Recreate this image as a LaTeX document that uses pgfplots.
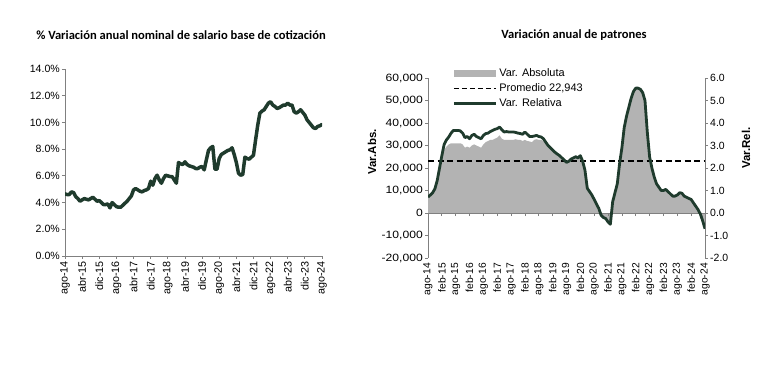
\documentclass[border=0pt]{standalone}
\usepackage{pgfplots}
\pgfplotsset{compat=1.18}
\usepackage{fontspec}
\setmainfont{Liberation Sans}
\newfontfamily\titlefont{Carlito}
\newfontfamily\widefont{Liberation Sans}[FakeStretch=1.15]
\definecolor{dgreen}{HTML}{1F3B2D}
\definecolor{areagray}{HTML}{B3B3B3}
\definecolor{axgray}{HTML}{808080}

\pgfplotstableread{
m v
0 4.65
1 4.6
2 4.6
3 4.8
4 4.75
5 4.45
6 4.3
7 4.1
8 4.2
9 4.3
10 4.25
11 4.2
12 4.3
13 4.4
14 4.25
15 4.1
16 4.15
17 4.0
18 3.85
19 3.85
20 3.9
21 3.6
22 4.0
23 3.85
24 3.7
25 3.65
26 3.65
27 3.8
28 3.95
29 4.1
30 4.3
31 4.5
32 4.95
33 5.05
34 4.95
35 4.85
36 4.8
37 4.9
38 4.95
39 5.05
40 5.6
41 5.3
42 5.8
43 6.05
44 5.7
45 5.45
46 5.8
47 6.05
48 6.0
49 5.95
50 5.95
51 5.7
52 5.45
53 7.0
54 6.9
55 6.85
56 7.05
57 6.85
58 6.75
59 6.7
60 6.65
61 6.55
62 6.55
63 6.65
64 6.7
65 6.45
66 7.2
67 7.9
68 8.1
69 8.2
70 6.5
71 6.5
72 7.3
73 7.6
74 7.7
75 7.8
76 7.9
77 7.95
78 8.1
79 7.6
80 7.0
81 6.2
82 6.05
83 6.1
84 7.4
85 7.3
86 7.25
87 7.4
88 7.55
89 8.7
90 9.8
91 10.7
92 10.85
93 10.95
94 11.2
95 11.45
96 11.55
97 11.3
98 11.2
99 11.05
100 11.1
101 11.2
102 11.3
103 11.3
104 11.45
105 11.3
106 11.3
107 10.8
108 10.7
109 10.8
110 10.95
111 10.75
112 10.55
113 10.2
114 10.0
115 9.8
116 9.6
117 9.55
118 9.7
119 9.75
120 9.85
}\salario

\pgfplotstableread{
m r
0 0.71
1 0.80
2 0.90
3 1.08
4 1.45
5 2.0
6 2.55
7 3.05
8 3.25
9 3.38
10 3.55
11 3.67
12 3.67
13 3.67
14 3.65
15 3.55
16 3.35
17 3.40
18 3.30
19 3.45
20 3.50
21 3.40
22 3.35
23 3.30
24 3.45
25 3.53
26 3.55
27 3.62
28 3.67
29 3.72
30 3.75
31 3.82
32 3.70
33 3.60
34 3.62
35 3.60
36 3.60
37 3.60
38 3.58
39 3.55
40 3.53
41 3.50
42 3.60
43 3.50
44 3.40
45 3.40
46 3.42
47 3.45
48 3.40
49 3.38
50 3.30
51 3.15
52 3.00
53 2.90
54 2.80
55 2.70
56 2.62
57 2.55
58 2.45
59 2.35
60 2.25
61 2.30
62 2.40
63 2.45
64 2.50
65 2.45
66 2.55
67 2.30
68 1.90
69 1.10
70 0.95
71 0.80
72 0.60
73 0.40
74 0.20
75 -0.10
76 -0.20
77 -0.25
78 -0.40
79 -0.50
80 0.50
81 0.90
82 1.30
83 2.20
84 2.90
85 3.80
86 4.30
87 4.70
88 5.10
89 5.40
90 5.55
91 5.55
92 5.50
93 5.35
94 5.00
95 3.60
96 2.50
97 2.00
98 1.60
99 1.30
100 1.15
101 1.00
102 1.00
103 1.05
104 0.95
105 0.85
106 0.75
107 0.75
108 0.80
109 0.90
110 0.88
111 0.75
112 0.70
113 0.65
114 0.60
115 0.45
116 0.30
117 0.15
118 -0.05
119 -0.35
120 -0.70
}\relativa

\pgfplotstableread{
m a
0 7000
1 7800
2 8800
3 10500
4 14000
5 19000
6 25000
7 28000
8 29500
9 30500
10 31000
11 31000
12 31000
13 31000
14 31000
15 30500
16 29000
17 29500
18 29000
19 30000
20 30500
21 30000
22 29500
23 29000
24 30500
25 31500
26 32000
27 32500
28 32500
29 33000
30 33500
31 34500
32 33000
33 32500
34 32500
35 32500
36 32500
37 32500
38 32800
39 32500
40 32500
41 32000
42 32500
43 32000
44 31800
45 31500
46 32500
47 32800
48 32500
49 32500
50 32000
51 31000
52 29500
53 28800
54 27800
55 26800
56 26000
57 25300
58 24300
59 23300
60 22300
61 22800
62 23800
63 24300
64 24800
65 24300
66 25300
67 22800
68 18800
69 10800
70 9300
71 7800
72 5800
73 3800
74 1800
75 -1200
76 -2200
77 -2700
78 -4200
79 -5200
80 4800
81 8800
82 12800
83 21800
84 28800
85 37800
86 42800
87 46800
88 50800
89 53800
90 55300
91 55300
92 54800
93 53300
94 49800
95 35800
96 24800
97 19800
98 15800
99 12800
100 11300
101 9800
102 9800
103 10300
104 9300
105 8300
106 7300
107 7300
108 7800
109 8800
110 8600
111 7300
112 6800
113 6300
114 5800
115 4300
116 2800
117 1300
118 -700
119 -3700
120 -7200
}\absoluta

\begin{document}
\begin{tikzpicture}
\path (0,0) rectangle (760bp,369bp);
\node[font=\titlefont\bfseries\fontsize{12.6}{14}\selectfont] at (181bp,334bp) {\% Variación anual nominal de salario base de cotización};
\node[font=\titlefont\bfseries\fontsize{12.6}{14}\selectfont] at (574bp,334bp) {Variación anual de patrones};
\node[rotate=90, font=\bfseries\fontsize{11.5}{13}\selectfont] at (372bp,217bp) {Var.Abs.};
\node[rotate=90, font=\bfseries\fontsize{11.5}{13}\selectfont] at (746bp,221bp) {Var.Rel.};

% Left chart
\begin{axis}[
  at={(65bp,113bp)}, anchor=south west, scale only axis,
  width=257bp, height=187bp,
  xmin=0, xmax=120, ymin=0, ymax=14,
  axis x line*=bottom, axis y line*=left,
  axis line style={axgray, line width=0.8bp},
  tick style={axgray, line width=0.8bp}, tick align=outside, major tick length=3bp,
  xtick={0,8,...,120},
  xticklabels={ago-14,abr-15,dic-15,ago-16,abr-17,dic-17,ago-18,abr-19,dic-19,ago-20,abr-21,dic-21,ago-22,abr-23,dic-23,ago-24},
  xticklabel style={rotate=90, anchor=east, font=\fontsize{10.8}{12}\selectfont, inner sep=2bp},
  ytick={0,2,...,14},
  /pgf/number format/assume math mode=true,
  yticklabel={\pgfmathprintnumber[fixed,fixed zerofill,precision=1]{\tick}\%},
  yticklabel style={font=\fontsize{10.6}{12}\selectfont, inner sep=2bp},
]
\addplot[dgreen, line width=3.5bp, line join=round, line cap=round, mark=none] table[x=m, y=v] {\salario};
\end{axis}

% Right chart, absolute axis
\begin{axis}[
  at={(428bp,111bp)}, anchor=south west, scale only axis,
  width=277bp, height=180bp,
  xmin=0, xmax=120, ymin=-20000, ymax=60000,
  axis x line*=bottom, axis y line*=left,
  x axis line style={draw=none},
  y axis line style={axgray, line width=0.8bp},
  xtick style={draw=none},
  ytick style={axgray, line width=0.8bp}, tick align=outside, major tick length=3bp,
  xtick={0,6,...,120},
  xticklabels={ago-14,feb-15,ago-15,feb-16,ago-16,feb-17,ago-17,feb-18,ago-18,feb-19,ago-19,feb-20,ago-20,feb-21,ago-21,feb-22,ago-22,feb-23,ago-23,feb-24,ago-24},
  xticklabel style={rotate=90, anchor=east, font=\fontsize{10.3}{12}\selectfont, inner sep=2bp},
  ytick={-20000,-10000,0,10000,20000,30000,40000,50000,60000},
  scaled y ticks=false,
  /pgf/number format/assume math mode=true,
  /pgf/number format/1000 sep={,},
  yticklabel style={font=\widefont\fontsize{10.6}{12}\selectfont, inner sep=2bp, /pgf/number format/fixed},
  legend style={at={(axis description cs:0.087,1.063)}, anchor=north west, draw=none, fill=none,
    font=\fontsize{11}{12}\selectfont, inner sep=0pt, row sep=1.5bp, cells={anchor=west}},
]
\addplot[fill=areagray, draw=none, mark=none,
  legend image code/.code={\fill[areagray] (0bp,-3.5bp) rectangle (42bp,3.5bp);}]
  table[x=m, y=a] {\absoluta} \closedcycle;
\addlegendentry{Var. Absoluta}
\addplot[black, line width=2bp, dash pattern=on 6bp off 3.5bp, mark=none,
  legend image code/.code={\draw[black,line width=1.6bp,dash pattern=on 5bp off 3bp] (0bp,0bp)--(42bp,0bp);}]
  coordinates {(0,22943) (120,22943)};
\addlegendentry{Promedio 22,943}
\addlegendimage{legend image code/.code={\draw[dgreen,line width=3bp] (0bp,0bp)--(42bp,0bp);}}
\addlegendentry{Var. Relativa}
\end{axis}

% Right chart, relative axis
\begin{axis}[
  at={(428bp,111bp)}, anchor=south west, scale only axis,
  width=277bp, height=180bp,
  xmin=0, xmax=120, ymin=-2, ymax=6,
  axis x line*=middle, axis y line*=right,
  axis line style={axgray, line width=0.8bp},
  tick style={axgray, line width=0.8bp}, tick align=outside, major tick length=3bp,
  xtick={0,6,...,120}, xticklabels={},
  ytick={-2,-1,...,6},
  /pgf/number format/assume math mode=true,
  yticklabel={\pgfmathprintnumber[fixed,fixed zerofill,precision=1]{\tick}},
  yticklabel style={font=\fontsize{10.5}{12}\selectfont, inner sep=2bp},
]
\addplot[dgreen, line width=2.8bp, line join=round, mark=none] table[x=m, y=r] {\relativa};
\end{axis}
\end{tikzpicture}
\end{document}
